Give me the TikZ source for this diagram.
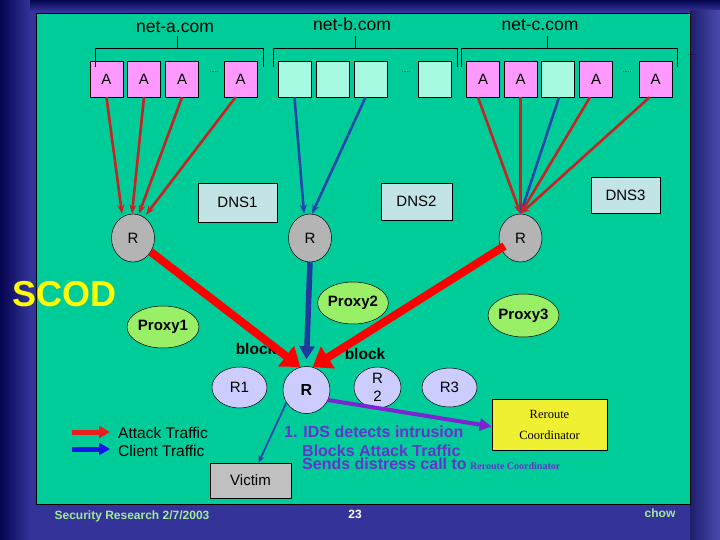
\documentclass[tikz,border=0pt]{standalone}
\usepackage{fontspec}
\setmainfont{Liberation Sans}
\newfontfamily\rcserif{Liberation Serif}
\usetikzlibrary{arrows.meta,shapes.geometric}
\definecolor{navy}{RGB}{51,51,153}
\definecolor{navydark}{RGB}{5,5,80}
\definecolor{navyright}{RGB}{30,30,110}
\definecolor{navylight}{RGB}{75,75,175}
\definecolor{panel}{RGB}{0,204,153}
\definecolor{pinkbox}{RGB}{255,153,255}
\definecolor{cyanbox}{RGB}{165,250,225}
\definecolor{dnsbox}{RGB}{195,228,230}
\definecolor{rgray}{RGB}{180,180,180}
\definecolor{lavender}{RGB}{204,204,255}
\definecolor{proxygreen}{RGB}{153,240,102}
\definecolor{victimgray}{RGB}{192,192,192}
\definecolor{reroute}{RGB}{240,240,50}
\definecolor{purpletext}{RGB}{102,51,204}
\definecolor{purplearrow}{RGB}{125,35,210}
\definecolor{redthin}{RGB}{200,35,35}
\definecolor{bluethin}{RGB}{35,70,170}
\definecolor{bluethick}{RGB}{35,55,160}
\definecolor{footgreen}{RGB}{160,235,150}
\tikzset{
  hostbox/.style={draw=black, line width=0.6pt, minimum width=33pt, minimum height=36pt, inner sep=0pt, font=\fontsize{15}{15}\selectfont},
  abox/.style={hostbox, fill=pinkbox},
  cbox/.style={hostbox, fill=cyanbox},
  dnsnode/.style={draw=black, line width=0.6pt, fill=dnsbox, inner sep=0pt, font=\fontsize{15}{15}\selectfont},
  grayr/.style={ellipse, draw=black, line width=0.5pt, fill=rgray, minimum width=43pt, minimum height=48pt, inner sep=0pt, font=\fontsize{15}{15}\selectfont},
  lavr/.style={ellipse, draw=black, line width=0.5pt, fill=lavender, inner sep=0pt, font=\fontsize{15}{15}\selectfont},
  proxy/.style={ellipse, draw=black, line width=0.5pt, fill=proxygreen, inner sep=0pt, font=\bfseries\fontsize{15}{15}\selectfont},
  domlabel/.style={font=\fontsize{17.5}{17.5}\selectfont, anchor=base, inner sep=0pt},
  dotsnode/.style={font=\fontsize{6}{6}\selectfont, inner sep=0pt},
  bracket/.style={draw=black, line width=0.7pt},
  tred/.style={draw=redthin, line width=2.6pt, -{Stealth[length=9pt,width=7pt]}},
  tblue/.style={draw=bluethin, line width=2.6pt, -{Stealth[length=9pt,width=7pt]}},
  bigred/.style={draw=red, line width=8pt, -{Triangle[length=18pt,width=25pt]}},
  bigblue/.style={draw=bluethick, line width=5.5pt, -{Triangle[length=13pt,width=15pt]}},
  purarrow/.style={draw=purplearrow, line width=4pt, -{Triangle[length=12pt,width=12pt]}},
  vicarrow/.style={draw=bluethin, line width=1.8pt, -{Stealth[length=7pt,width=6pt]}},
  blocklbl/.style={font=\bfseries\fontsize{15.5}{15.5}\selectfont, inner sep=0pt},
  purtxt/.style={font=\bfseries\fontsize{16}{16}\selectfont, text=purpletext, anchor=base west, inner sep=0pt},
  legtxt/.style={font=\fontsize{15.5}{15.5}\selectfont, anchor=base west, inner sep=0pt},
  foot/.style={font=\bfseries\fontsize{12}{12}\selectfont, anchor=base, inner sep=0pt}
}
\begin{document}
\begin{tikzpicture}[x=1pt,y=-1pt]
\useasboundingbox (0,0) rectangle (720,540);
% background
\fill[navy] (0,0) rectangle (720,540);
\shade[left color=navydark, right color=navy] (0,0) rectangle (30,540);
\shade[top color=navydark, bottom color=navy] (30,0) rectangle (720,11);
\shade[left color=navyright, right color=navylight] (690,11) rectangle (720,540);
\draw[fill=panel, line width=0.8pt] (36,13) rectangle (690,504);

% domain labels
\node[domlabel] (neta) at (175,33) {net-a.com};
\node[domlabel] (netb) at (352,31) {net-b.com};
\node[domlabel] (netc) at (540,31) {net-c.com};

% host boxes
\node[abox] (a1) at (106.5,79) {A};
\node[abox] (a2) at (144,79) {A};
\node[abox] (a3) at (182,79) {A};
\node[dotsnode] (da) at (214,72) {.....};
\node[abox] (a4) at (240.5,79) {A};

\node[cbox] (b1) at (294.5,79) {};
\node[cbox] (b2) at (333,79) {};
\node[cbox] (b3) at (370.5,79) {};
\node[dotsnode] (db) at (406,72) {.....};
\node[cbox] (b4) at (434.5,79) {};

\node[abox] (c1) at (483,79) {A};
\node[abox] (c2) at (520.5,79) {A};
\node[cbox] (c3) at (558,79) {};
\node[abox] (c4) at (596,79) {A};
\node[dotsnode] (dc) at (627,72) {.....};
\node[abox] (c5) at (655.5,79) {A};
\node[dotsnode] (dd) at (692,55) {.....};

% brackets
\draw[bracket] (95,67) -- (95,48) -- (263,48) -- (263,67);
\draw[bracket] (177,36) -- (177,48);
\draw[bracket] (273,67) -- (273,48) -- (457,48) -- (457,67);
\draw[bracket] (355,36) -- (355,48);
\draw[bracket] (461,67) -- (461,48) -- (677,48) -- (677,67);
\draw[bracket] (547,36) -- (547,48);

% DNS
\node[dnsnode, minimum width=79pt, minimum height=39pt] (dns1) at (237.5,202.5) {DNS1};
\node[dnsnode, minimum width=71pt, minimum height=37pt] (dns2) at (416.5,201.5) {DNS2};
\node[dnsnode, minimum width=69pt, minimum height=36pt] (dns3) at (625.5,195) {DNS3};

% edge routers
\node[grayr] (r1) at (133,238) {R};
\node[grayr] (r2) at (310,238) {R};
\node[grayr] (r3) at (520.5,238) {R};

% SCOD
\node[font=\bfseries\fontsize{36}{36}\selectfont, text={rgb,255:red,255;green,255;blue,0}, anchor=base west, inner sep=0pt] (scod) at (12,306) {SCOD};

% proxies
\node[proxy, minimum width=72pt, minimum height=42pt] (p1) at (163,327) {Proxy1};
\node[proxy, minimum width=70pt, minimum height=42pt] (p2) at (353,303) {Proxy2};
\node[proxy, minimum width=71pt, minimum height=43pt] (p3) at (523.5,315.5) {Proxy3};

% inner routers
\node[lavr, minimum width=55pt, minimum height=41pt] (rr1) at (239.5,387.5) {R1};
\node[lavr, minimum width=47pt, minimum height=47pt, font=\bfseries\fontsize{16}{16}\selectfont] (rv) at (306.5,390) {R};
\node[lavr, minimum width=47pt, minimum height=41pt, align=center, font=\fontsize{15}{18}\selectfont] (rr2) at (377.5,387.5) {R\\2};
\node[lavr, minimum width=55pt, minimum height=39pt] (rr3) at (449.5,387.5) {R3};

% block labels
\node[blocklbl] (bl1) at (256,349) {block};
\node[blocklbl] (bl2) at (365,354) {block};

% victim and reroute coordinator
\node[draw=black, line width=0.6pt, fill=victimgray, minimum width=81pt, minimum height=35pt, inner sep=0pt, font=\fontsize{15}{15}\selectfont] (vic) at (250.5,480.5) {Victim};
\node[draw=black, line width=0.6pt, fill=reroute, minimum width=115pt, minimum height=51pt, inner sep=0pt, align=center, font=\rcserif\fontsize{12.5}{21}\selectfont] (rc) at (549.5,424.5) {Reroute\\Coordinator};

% thin arrows to edge routers
\draw[tred] (a1.south) -- ([xshift=-11pt]r1.north);
\draw[tred] (a2.south) -- ([xshift=-1pt]r1.north);
\draw[tred] (a3.south) -- ([xshift=6pt]r1.north);
\draw[tred] ([xshift=-5pt]a4.south) -- ([xshift=13pt,yshift=-1pt]r1.north);
\draw[tblue] (b1.south) -- ([xshift=-6pt]r2.north);
\draw[tblue] ([xshift=-5pt]b3.south) -- ([xshift=2pt]r2.north);
\draw[tred] ([xshift=-5pt]c1.south) -- (r3.north);
\draw[tred] (c2.south) -- (r3.north);
\draw[tblue] ([xshift=1pt]c3.south) -- (r3.north);
\draw[tred] ([xshift=-6pt]c4.south) -- (r3.north);
\draw[tred] ([xshift=-6pt]c5.south) -- (r3.north);

% heavy arrows
\draw[bigred] (r1.-38) -- (rv.105);
\draw[bigblue] (r2.south) -- ([yshift=7pt]rv.north);
\draw[bigred] ([shift={(-16,8)}]r3.center) -- (rv.75);
\draw[purarrow] (rv.-25) -- ([yshift=-2pt]rc.west);
\draw[vicarrow] (rv.212) -- ([xshift=8pt]vic.north);

% legend
\coordinate (lra) at (72,432);
\coordinate (lrb) at (110,432);
\coordinate (lba) at (72,449);
\coordinate (lbb) at (110,449);
\draw[draw={rgb,255:red,235;green,30;blue,30}, line width=5pt, -{Triangle[length=11pt,width=12pt]}] (lra) -- (lrb);
\draw[draw={rgb,255:red,20;green,20;blue,235}, line width=5pt, -{Triangle[length=11pt,width=12pt]}] (lba) -- (lbb);
\node[legtxt] (lt1) at (118,438) {Attack Traffic};
\node[legtxt] (lt2) at (118,456) {Client Traffic};

% purple text
\node[purtxt] (ids1) at (284,437) {1. IDS detects intrusion};
\node[purtxt] (ids2) at (302,456) {Blocks Attack Traffic};
\node[purtxt] (ids3) at (302,469) {Sends distress call to};
\node[font=\rcserif\bfseries\fontsize{10}{10}\selectfont, text=purpletext, anchor=base west, inner sep=0pt] (ids4) at (470,469) {Reroute Coordinator};

% footer
\node[foot, text=footgreen] (ft1) at (132,519) {Security Research 2/7/2003};
\node[foot, text=white] (ft2) at (355,518) {23};
\node[foot, text=footgreen] (ft3) at (660,517) {chow};
\end{tikzpicture}
\end{document}
